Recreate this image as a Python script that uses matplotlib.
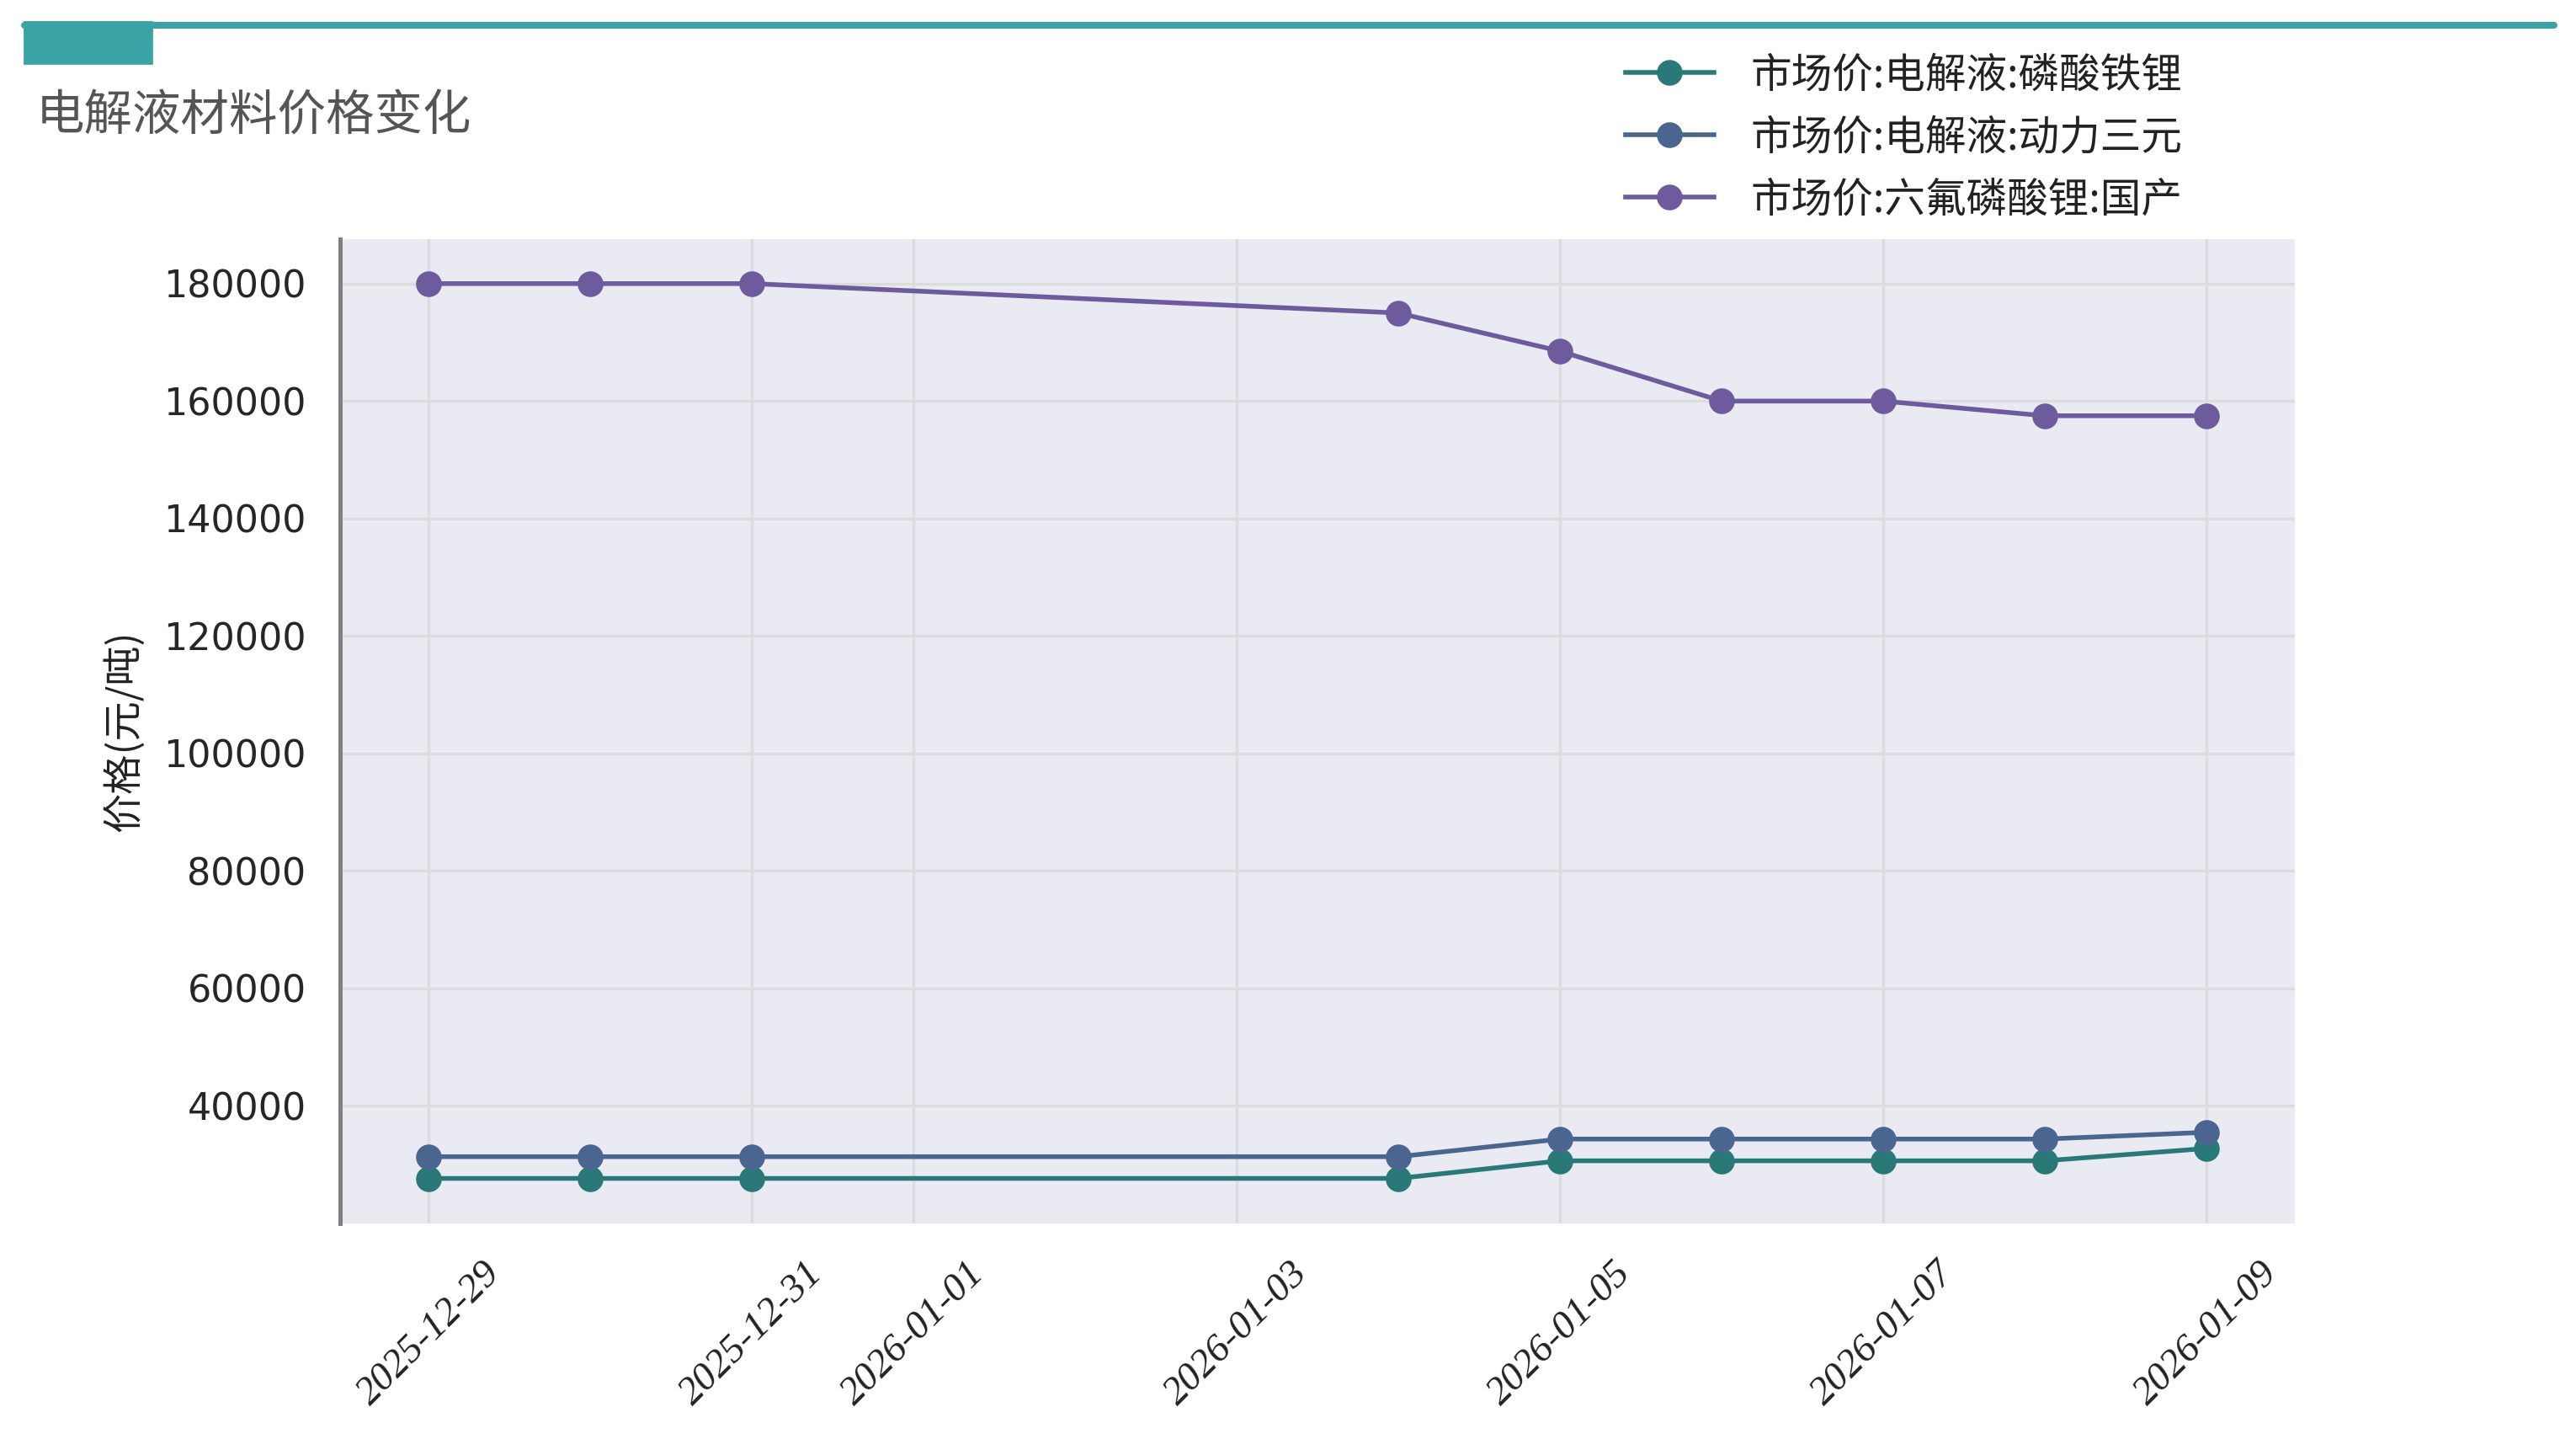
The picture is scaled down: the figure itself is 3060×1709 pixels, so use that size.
import matplotlib
matplotlib.use("Agg")
import matplotlib.pyplot as plt
import matplotlib.dates as mdates
from matplotlib.lines import Line2D
from matplotlib.patches import Rectangle
import pandas as pd

plt.rcParams['font.family'] = ['Noto Sans CJK SC', 'DejaVu Sans']

dates = pd.to_datetime(['2025-12-29', '2025-12-30', '2025-12-31', '2026-01-04',
                        '2026-01-05', '2026-01-06', '2026-01-07', '2026-01-08',
                        '2026-01-09'])
lfp = [27650, 27650, 27650, 27650, 30650, 30650, 30650, 30650, 32750]
ncm = [31350, 31350, 31350, 31350, 34350, 34350, 34350, 34350, 35500]
lipf6 = [180000, 180000, 180000, 175000, 168500, 160000, 160000, 157500, 157500]

names = ['市场价:电解液:磷酸铁锂', '市场价:电解液:动力三元', '市场价:六氟磷酸锂:国产']
colors = ['#2a7979', '#4a6690', '#6d5b9e']
teal = '#3ba3a5'

fig = plt.figure(figsize=(15.3, 8.545), dpi=200)
ax = fig.add_axes([0.132, 0.150, 0.759, 0.684])
ax.set_facecolor('#eaeaf2')

for vals, name, c in zip([lfp, ncm, lipf6], names, colors):
    ax.plot(dates, vals, color=c, lw=2, marker='o', ms=10, label=name)

ax.grid(True, color='#dcdcdc', lw=1.2)
ax.set_axisbelow(True)
for s in ['top', 'right', 'bottom']:
    ax.spines[s].set_visible(False)
ax.spines['left'].set_color('#808080')
ax.spines['left'].set_linewidth(1.8)

ax.xaxis.set_major_locator(mdates.AutoDateLocator())
ax.xaxis.set_major_formatter(mdates.DateFormatter('%Y-%m-%d'))
ax.tick_params(axis='both', length=0)
ax.tick_params(axis='y', labelsize=16, labelcolor='#262626', pad=14.5)
ax.tick_params(axis='x', pad=14)
for lab in ax.get_xticklabels():
    lab.set_rotation(45)
    lab.set_fontfamily(['Liberation Serif'])
    lab.set_fontstyle('italic')
    lab.set_fontsize(17)
    lab.set_color('#222222')
for lab in ax.get_yticklabels():
    lab.set_fontfamily(['DejaVu Sans'])

ax.set_ylabel('价格(元/吨)', fontsize=17, color='#222222')
ax.yaxis.set_label_coords(-0.10, 0.5)

ax.legend(loc='upper left', bbox_to_anchor=(0.631, 0.962), bbox_transform=fig.transFigure,
          frameon=False, fontsize=17.5, handlelength=2.16, handletextpad=0.9,
          labelspacing=0.5, borderpad=0, borderaxespad=0, labelcolor='#222222')

# header decoration
fig.add_artist(Line2D([0.0096, 0.9915], [0.9824, 0.9824], color=teal, lw=2.9,
                      solid_capstyle='round', transform=fig.transFigure))
fig.add_artist(Rectangle((0.0096, 0.9561), 0.0492, 0.0287, color=teal,
                         transform=fig.transFigure))
fig.text(0.014, 0.919, '电解液材料价格变化', fontsize=20.7, color='#555555', va='center')

fig.savefig('out.png', dpi=200)
